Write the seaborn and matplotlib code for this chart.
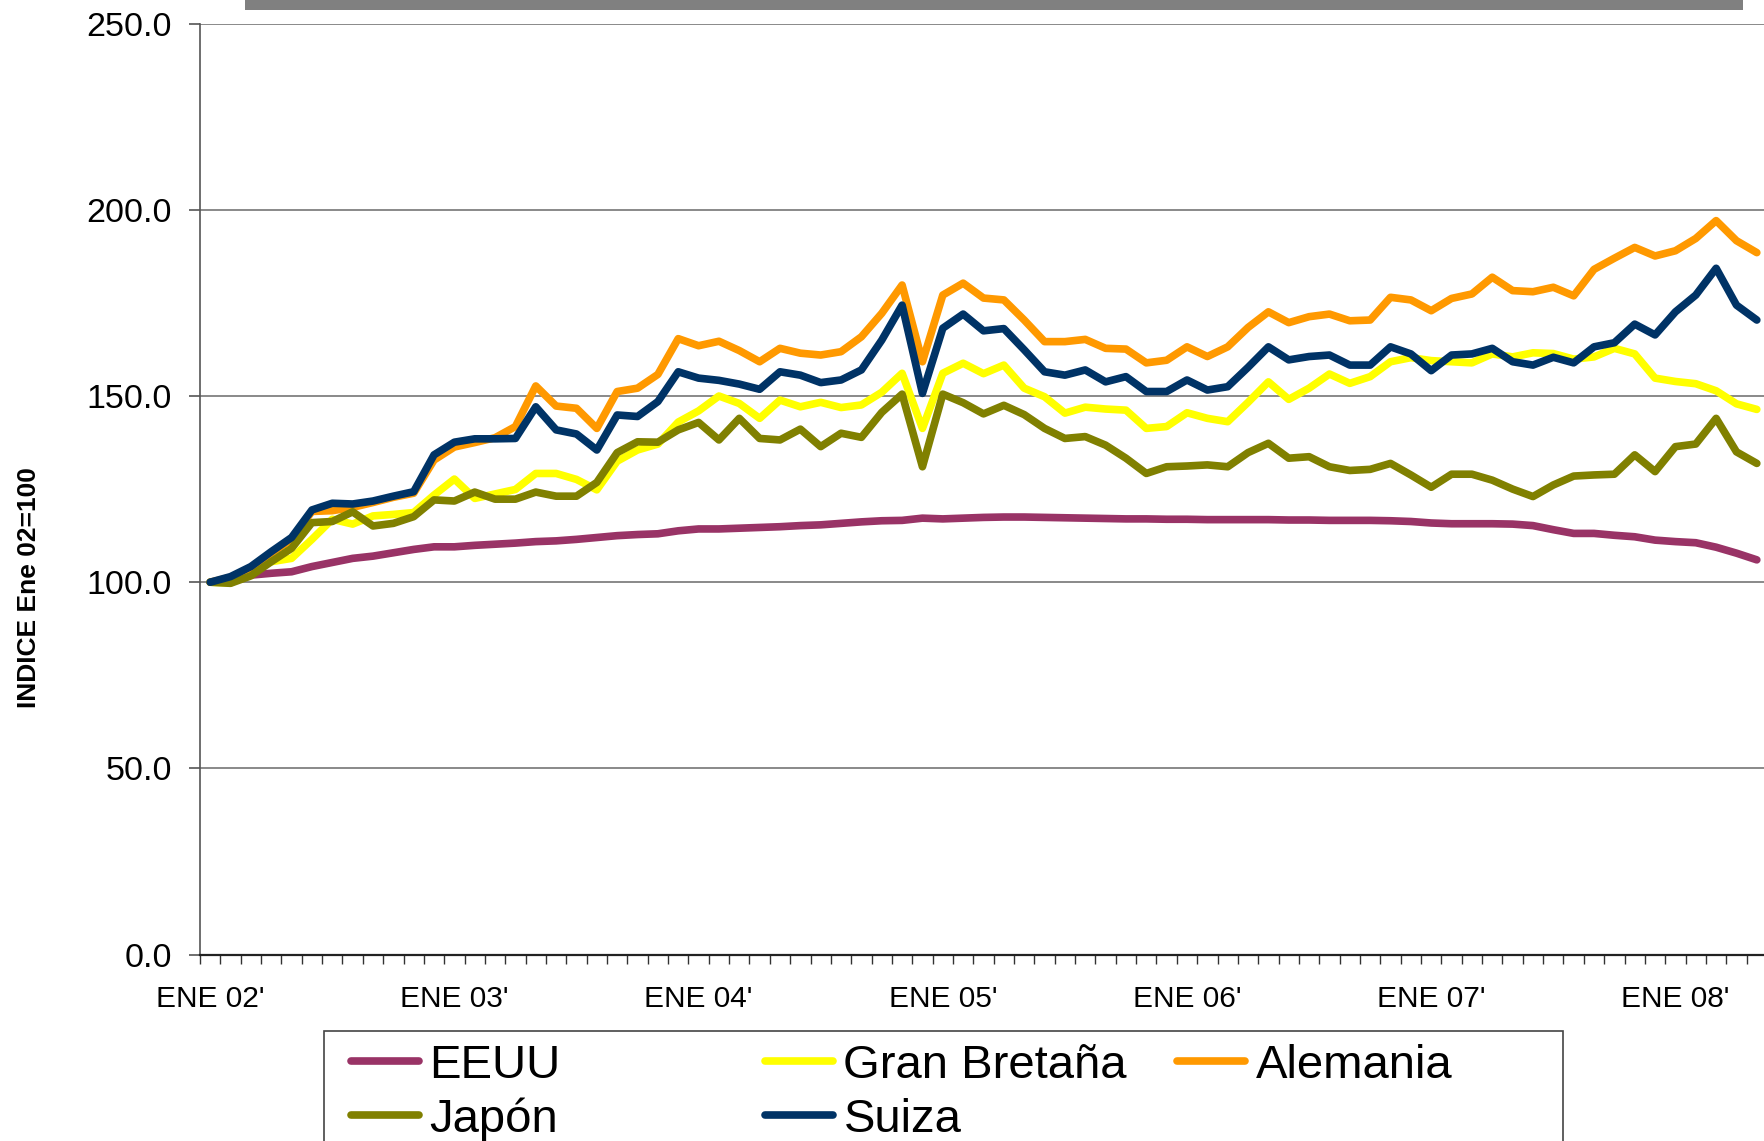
import matplotlib
matplotlib.use("Agg")
import matplotlib.pyplot as plt
import seaborn as sns
import pandas as pd
from matplotlib.patches import Rectangle
from matplotlib.ticker import FixedLocator, FuncFormatter

# ---------------- data (monthly index, Jan 2002 = 100) ----------------
xtick_months = [0, 12, 24, 36, 48, 60, 72]
xtick_labels = ["ENE 02'", "ENE 03'", "ENE 04'", "ENE 05'", "ENE 06'", "ENE 07'", "ENE 08'"]
yticks = [0, 50, 100, 150, 200, 250]

eeuu = [100.0, 100.9, 101.9, 102.4, 102.8, 104.2, 105.3, 106.4, 107.0, 107.9, 108.8, 109.5,
        109.5, 109.9, 110.2, 110.5, 110.9, 111.1, 111.5, 112.0, 112.5, 112.8, 113.0, 113.8,
        114.3, 114.3, 114.5, 114.7, 114.9, 115.2, 115.4, 115.8, 116.2, 116.5, 116.6, 117.2,
        117.0, 117.2, 117.4, 117.5, 117.5, 117.4, 117.3, 117.2, 117.1, 117.0, 117.0, 116.9,
        116.9, 116.8, 116.8, 116.8, 116.8, 116.7, 116.7, 116.6, 116.6, 116.6, 116.5, 116.3,
        115.9, 115.7, 115.7, 115.7, 115.6, 115.2, 114.1, 113.1, 113.1, 112.6, 112.2, 111.3,
        110.9, 110.6, 109.4, 107.8, 106.0]

gran_bretana = [100.0, 99.8, 103.0, 105.5, 106.4, 111.5, 116.9, 115.6, 117.8, 118.2, 118.7, 123.4,
                127.7, 122.5, 123.7, 124.9, 129.2, 129.2, 127.6, 124.8, 132.5, 135.5, 137.1, 143.0,
                146.0, 150.0, 148.0, 144.0, 148.9, 147.1, 148.3, 146.9, 147.6, 151.0, 156.1, 141.3,
                156.1, 158.8, 156.0, 158.3, 152.1, 149.8, 145.4, 147.0, 146.5, 146.2, 141.3, 141.8,
                145.5, 144.0, 143.1, 148.3, 153.8, 149.1, 152.1, 155.9, 153.4, 155.2, 159.2, 160.3,
                159.5, 159.2, 158.9, 161.3, 160.5, 161.6, 161.4, 159.9, 160.5, 162.8, 161.3, 154.8,
                153.9, 153.3, 151.4, 147.9, 146.4]

alemania = [100.0, 101.3, 103.8, 107.8, 111.5, 119.0, 119.2, 120.1, 121.4, 122.8, 123.9, 132.8,
            136.3, 137.5, 138.8, 141.8, 152.7, 147.3, 146.7, 141.3, 151.2, 152.1, 155.8, 165.4,
            163.5, 164.7, 162.2, 159.2, 162.8, 161.5, 161.0, 161.9, 165.9, 172.2, 179.8, 159.2,
            177.1, 180.3, 176.3, 175.8, 170.4, 164.6, 164.6, 165.2, 162.8, 162.6, 158.9, 159.6,
            163.2, 160.6, 163.2, 168.4, 172.6, 169.7, 171.3, 172.0, 170.2, 170.4, 176.5, 175.8,
            172.9, 176.2, 177.4, 181.9, 178.3, 178.0, 179.2, 176.9, 184.0, 187.0, 189.9, 187.6,
            189.0, 192.3, 197.1, 191.7, 188.5]

japon = [100.0, 99.7, 101.7, 105.5, 109.1, 116.0, 116.3, 118.9, 115.1, 115.8, 117.6, 122.1,
         121.8, 124.2, 122.3, 122.3, 124.2, 123.1, 123.1, 126.8, 134.8, 137.7, 137.6, 140.9,
         142.9, 138.2, 144.0, 138.6, 138.2, 141.1, 136.4, 140.0, 138.9, 145.6, 150.5, 131.0,
         150.5, 148.2, 145.2, 147.5, 145.0, 141.3, 138.6, 139.1, 136.8, 133.3, 129.2, 131.0,
         131.2, 131.5, 131.0, 134.8, 137.3, 133.3, 133.7, 131.0, 130.0, 130.3, 131.9, 128.8,
         125.5, 129.0, 129.0, 127.4, 125.0, 123.0, 126.1, 128.5, 128.8, 129.0, 134.2, 129.7,
         136.4, 137.1, 144.0, 135.0, 131.9]

suiza = [100.0, 101.5, 104.2, 108.2, 112.0, 119.4, 121.2, 121.0, 121.8, 123.1, 124.3, 134.2,
         137.6, 138.5, 138.5, 138.6, 147.1, 140.9, 139.8, 135.5, 144.9, 144.5, 148.5, 156.5,
         154.8, 154.2, 153.2, 151.8, 156.5, 155.6, 153.6, 154.3, 157.0, 165.0, 174.4, 150.7,
         168.2, 172.0, 167.5, 168.1, 162.4, 156.5, 155.6, 157.0, 153.8, 155.2, 151.2, 151.2,
         154.3, 151.6, 152.5, 157.7, 163.2, 159.7, 160.6, 161.0, 158.3, 158.3, 163.2, 161.3,
         156.8, 161.0, 161.3, 162.8, 159.2, 158.3, 160.4, 158.9, 163.2, 164.3, 169.3, 166.4,
         172.6, 177.1, 184.3, 174.4, 170.4]

series_names = ["EEUU", "Gran Bretaña", "Alemania", "Japón", "Suiza"]
series_values = [eeuu, gran_bretana, alemania, japon, suiza]
colors = ["#993366", "#FFFF00", "#FF9900", "#808000", "#003366"]

# ---------------- build long-form table ----------------
rows = []
for name, vals in zip(series_names, series_values):
    for m, v in enumerate(vals):
        rows.append({"mes": m, "indice": v, "pais": name})
df = pd.DataFrame(rows)
palette = dict(zip(series_names, colors))

# ---------------- figure ----------------
sns.set_theme(style="white")
plt.rcParams["font.family"] = ["Liberation Sans", "DejaVu Sans"]
plt.rcParams["text.color"] = "black"
plt.rcParams["axes.labelcolor"] = "black"

W, H = 1765, 1141
fig = plt.figure(figsize=(W / 100, H / 100), dpi=100)
ax = fig.add_axes([200 / W, 1 - 954.6 / H, 1567 / W, 931 / H])

sns.lineplot(data=df, x="mes", y="indice", hue="pais", hue_order=series_names,
             palette=palette, linewidth=5.5, legend=False, ax=ax,
             estimator=None, sort=False)
for ln in ax.lines:
    ln.set_solid_joinstyle("round")
    ln.set_solid_capstyle("round")

n = len(eeuu)
ax.set_xlim(-0.5, n - 0.5)
ax.set_ylim(0, 250)

# y axis
ax.set_yticks(yticks)
ax.yaxis.set_major_formatter(FuncFormatter(lambda v, p: f"{v:.1f}"))
ax.tick_params(axis="y", which="major", direction="out", length=8, width=1.2,
               color="#555555", labelcolor="black", labelsize=24.5, pad=12, left=True)
ax.yaxis.grid(True, color="#808080", linewidth=1.3)
ax.xaxis.grid(False)
ax.set_axisbelow(True)

# x axis: labels at January points, small ticks at month boundaries
ax.xaxis.set_major_locator(FixedLocator(xtick_months))
ax.set_xticklabels(xtick_labels)
ax.xaxis.set_minor_locator(FixedLocator([i - 0.5 for i in range(n + 1)]))
ax.tick_params(axis="x", which="major", length=0, labelsize=21.5, labelcolor="black",
               pad=22, bottom=True)
ax.tick_params(axis="x", which="minor", direction="out", length=6.5, width=1.0,
               color="#333333", bottom=True)
ax.set_xlabel("")

ax.set_ylabel("INDICE Ene 02=100", fontsize=19, fontweight="bold", color="black")
ax.yaxis.set_label_coords(-0.1016, 0.394)

for s in ["top", "right"]:
    ax.spines[s].set_visible(False)
ax.spines["left"].set_color("#555555")
ax.spines["left"].set_linewidth(1.2)
ax.spines["bottom"].set_color("#222222")
ax.spines["bottom"].set_linewidth(1.6)

# ---------------- legend (3 equal-width columns in one frame) ----------------
line_by_name = dict(zip(series_names, ax.lines))
columns = [(["EEUU", "Japón"], 351), (["Gran Bretaña", "Suiza"], 765.5), (["Alemania"], 1177.5)]
for labels, xpx in columns:
    leg = fig.legend([line_by_name[l] for l in labels], labels, loc="upper left",
                     bbox_to_anchor=(xpx / W, 1 - 1043.6 / H), frameon=False, fontsize=34,
                     handlelength=1.43, handletextpad=0.22, labelspacing=0.21,
                     borderpad=0, borderaxespad=0)
    for t in leg.get_texts():
        t.set_color("black")

fig.patches.append(Rectangle((324 / W, -0.05), (1563 - 324) / W, (1141 - 1031) / H + 0.05,
                             transform=fig.transFigure, fill=False,
                             edgecolor="#444444", linewidth=1.2))
# grey title strip at the top
fig.patches.append(Rectangle((245 / W, 1 - 10 / H), (1743 - 245) / W, 10 / H + 0.01,
                             transform=fig.transFigure, facecolor="#808080",
                             edgecolor="none"))

fig.savefig("out.png", dpi=100)
